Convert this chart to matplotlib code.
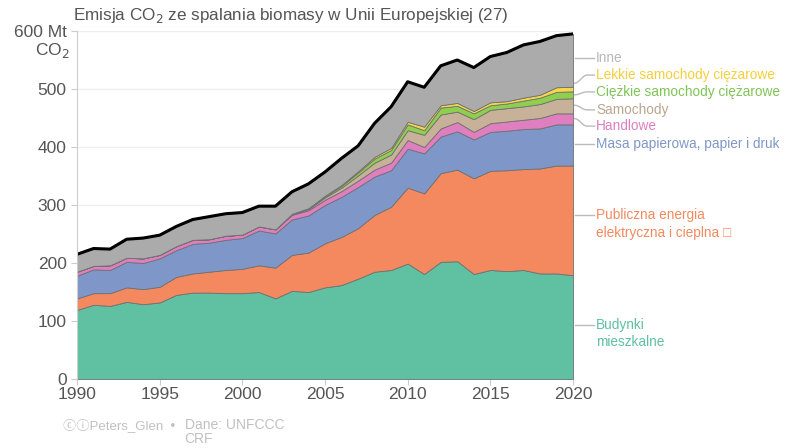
import numpy as np
import matplotlib.pyplot as plt

plt.rcParams['font.family'] = ['Liberation Sans', 'DejaVu Sans']

years = np.arange(1990, 2021)

# emisje w Mt CO2 (grubość warstw)
budynki = [119, 128, 126, 133, 129, 132, 145, 149, 149, 148, 148, 150, 139, 152, 150,
           158, 162, 173, 185, 188, 199, 181, 202, 203, 181, 188, 186, 188, 182, 182, 179]
publiczna = [20, 20, 22, 25, 26, 27, 31, 33, 36, 40, 42, 46, 53, 62, 68,
             76, 83, 87, 98, 109, 131, 139, 153, 158, 165, 171, 174, 174, 181, 186, 189]
masa = [39, 41, 40, 44, 45, 49, 46, 51, 50, 52, 53, 60, 59, 61, 64,
        66, 69, 71, 66, 63, 67, 69, 63, 66, 67, 67, 68, 69, 69, 71, 71]
handlowe = [7, 6, 8, 7, 8, 6, 7, 7, 6, 7, 6, 7, 7, 8, 9,
            9, 10, 11, 12, 13, 15, 11, 14, 16, 13, 15, 16, 16, 18, 19, 19]
samochody = [0, 0, 0, 0, 0, 0, 0, 0, 0, 0, 0, 0, 0, 1, 2,
             4, 6, 9, 12, 14, 17, 21, 24, 18, 22, 23, 23, 23, 24, 25, 26]
ciezkie = [0, 0, 0, 0, 0, 0, 0, 0, 0, 0, 0, 0, 0, 0.5, 1,
           2, 3, 5, 7, 8, 10, 8, 12, 10, 10, 8, 8, 10, 11, 12, 12]
lekkie = [0, 0, 0, 0, 0, 0, 0, 0, 0, 0, 0, 0, 0, 0.3, 0.5,
          1, 1.5, 2, 3, 3.5, 4.5, 6, 4, 5, 4, 5, 4, 5, 5, 8, 8]
inne = [30, 30, 28, 32, 35, 34, 34, 35, 39, 38, 38, 35, 40, 38, 42,
        41, 46, 44, 58, 71, 69, 68, 68, 74, 75, 79, 84, 91, 92, 89, 91]

series = [budynki, publiczna, masa, handlowe, samochody, ciezkie, lekkie, inne]
colors = ['#5fc1a1', '#f4895f', '#7f97c8', '#df7fc0', '#c7b198', '#8fcf4f', '#f5d84a', '#ababab']
label_colors = ['#5fc1a1', '#f4895f', '#7f97c8', '#df7fc0', '#b9a68f', '#7fc555', '#f5cf3a', '#b8b8b8']
names = ['Budynki\nmieszkalne', 'Publiczna energia\nelektryczna i cieplna \u25a1',
         'Masa papierowa, papier i druk', 'Handlowe', 'Samochody',
         'Ciężkie samochody ciężarowe', 'Lekkie samochody ciężarowe', 'Inne']

fig = plt.figure(figsize=(7.89, 4.48), dpi=100)
ax = fig.add_axes([0.0976, 0.154, 0.6286, 0.7768])

ax.stackplot(years, series, colors=colors, edgecolor='#707070', linewidth=0.6)
total = np.sum(np.array(series), axis=0)
ax.plot(years, total, color='black', lw=2.2, solid_joinstyle='round')

ax.set_xlim(1990, 2020)
ax.set_ylim(0, 600)
ax.set_yticks(range(0, 700, 100))
ax.set_yticklabels(['0', '100', '200', '300', '400', '500', '600 Mt'])
ax.set_xticks(range(1990, 2021, 5))
ax.grid(axis='y', color='#eeeeee', lw=1)
ax.set_axisbelow(True)
for s in ['top', 'right', 'bottom']:
    ax.spines[s].set_visible(False)
ax.spines['left'].set_color('#cccccc')
ax.tick_params(colors='#cccccc', labelcolor='#555555', labelsize=12.5, length=4)
ax.tick_params(axis='x', pad=2)
ax.text(-0.014, 0.945, 'CO$_2$', transform=ax.transAxes, ha='right', va='center',
        fontsize=12.5, color='#555555')

fig.text(0.093, 0.965, 'Emisja CO$_2$ ze spalania biomasy w Unii Europejskiej (27)',
         fontsize=12.3, color='#555555', va='center')

# etykiety po prawej z liniami prowadzącymi
label_y = [93, 282, 405, 436, 464, 495, 524, 553]
start_y = [93, 282, 405, 449, 472, 490, 510, 553]
for nm, col, ly, sy in zip(names, label_colors, label_y, start_y):
    t = np.linspace(0, 1, 20)
    xs = 2020.1 + 1.2 * t
    ys = sy + (ly - sy) * (1 - np.cos(np.pi * np.clip(t * 1.6, 0, 1))) / 2
    ax.plot(xs, ys, color='#bbbbbb', lw=1, clip_on=False)
    va = 'top' if '\n' in nm else 'center'
    yy = ly + 12 if '\n' in nm else ly
    ax.text(2021.4, yy, nm, color=col, fontsize=9.8, va=va, ha='left',
            linespacing=1.3, clip_on=False)

fig.text(0.08, 0.05, '\u24d2\u24d8Peters_Glen  \u2022', fontsize=9.5, color='#c0c0c0',
         va='center', family=['Liberation Sans', 'Noto Sans CJK SC', 'DejaVu Sans'])
fig.text(0.234, 0.068, 'Dane: UNFCCC\nCRF', fontsize=10, color='#c0c0c0', va='top',
         linespacing=1.0)

fig.savefig('out.png', dpi=100)
